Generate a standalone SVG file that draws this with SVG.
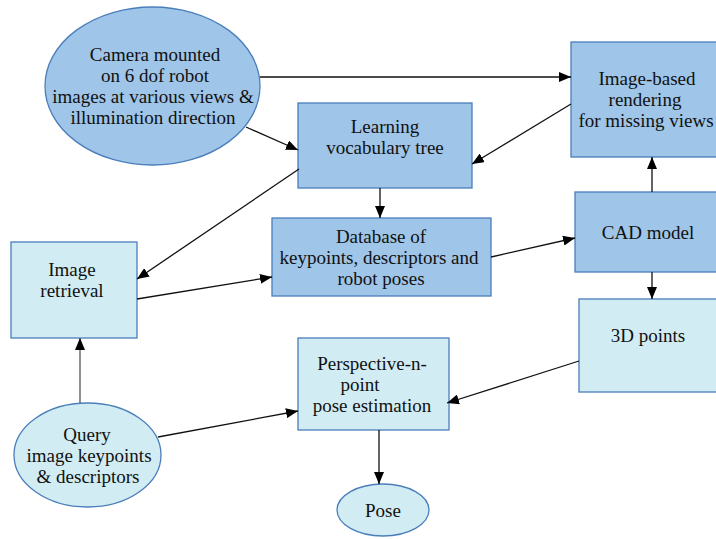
<svg xmlns="http://www.w3.org/2000/svg" width="716" height="539" viewBox="0 0 716 539">
<style>
.dark{fill:#9fc5e8;stroke:#4a7ebb;stroke-width:1.3}
.light{fill:#d2ecf3;stroke:#4a7ebb;stroke-width:1.3}
text{font-size:19px;fill:#111;text-anchor:middle}
.c line{stroke:#111;stroke-width:1.3}
</style>
<defs>
<marker id="ah" viewBox="0 0 12 10" refX="12" refY="5" markerWidth="12" markerHeight="10" markerUnits="userSpaceOnUse" orient="auto">
<path d="M0,0 L12,5 L0,10 z" fill="#000"/>
</marker>
</defs>
<rect width="716" height="539" fill="#fff"/>
<g font-family="'Liberation Serif', 'Times New Roman', 'DejaVu Serif', serif">
<g id="camera">
<ellipse class="dark" cx="152.5" cy="86" rx="107.5" ry="79"/>
<text x="155" y="61">Camera mounted</text>
<text x="155" y="82">on 6 dof robot</text>
<text x="153" y="103">images at various views &amp;</text>
<text x="153" y="124">illumination direction</text>
</g>
<g id="learning">
<rect class="dark" x="298" y="103" width="174" height="85"/>
<text x="385" y="133">Learning</text>
<text x="385" y="154">vocabulary tree</text>
</g>
<g id="ibr">
<rect class="dark" x="571" y="42" width="150" height="115"/>
<text x="647" y="85">Image-based</text>
<text x="645" y="106">rendering</text>
<text x="646" y="127">for missing views</text>
</g>
<g id="cad">
<rect class="dark" x="575" y="192" width="146" height="80"/>
<text x="648" y="239">CAD model</text>
</g>
<g id="database">
<rect class="dark" x="272" y="218" width="219" height="78"/>
<text x="381" y="243">Database of</text>
<text x="379" y="264">keypoints, descriptors and</text>
<text x="381" y="285">robot poses</text>
</g>
<g id="retrieval">
<rect class="light" x="11" y="242" width="126" height="96"/>
<text x="72" y="276">Image</text>
<text x="72" y="297">retrieval</text>
</g>
<g id="points3d">
<rect class="light" x="579" y="299" width="142" height="93"/>
<text x="648" y="342">3D points</text>
</g>
<g id="pnp">
<rect class="light" x="298" y="338" width="151" height="92"/>
<text x="372" y="370">Perspective-n-</text>
<text x="360" y="391">point</text>
<text x="372" y="412">pose estimation</text>
</g>
<g id="query">
<ellipse class="light" cx="87.5" cy="455" rx="73.5" ry="52"/>
<text x="87" y="441">Query</text>
<text x="89" y="462">image keypoints</text>
<text x="88" y="483">&amp; descriptors</text>
</g>
<g id="pose">
<ellipse class="light" cx="383" cy="510" rx="46" ry="26"/>
<text x="383" y="517">Pose</text>
</g>
</g>
<g class="c" id="connectors">
<line x1="260" y1="77" x2="571" y2="77" marker-end="url(#ah)"/>
<line x1="246" y1="127" x2="298" y2="150" marker-end="url(#ah)"/>
<line x1="571" y1="104" x2="472" y2="164" marker-end="url(#ah)"/>
<line x1="299" y1="169" x2="137" y2="279" marker-end="url(#ah)"/>
<line x1="380" y1="188" x2="380" y2="218" marker-end="url(#ah)"/>
<line x1="137" y1="299" x2="272" y2="277" marker-end="url(#ah)"/>
<line x1="491" y1="257" x2="575" y2="238" marker-end="url(#ah)"/>
<line x1="652" y1="192" x2="652" y2="157" marker-end="url(#ah)"/>
<line x1="652" y1="272" x2="652" y2="299" marker-end="url(#ah)"/>
<line x1="579" y1="361" x2="447" y2="403" marker-end="url(#ah)"/>
<line x1="80" y1="403" x2="80" y2="338" marker-end="url(#ah)" style="stroke:#555"/>
<line x1="158" y1="437" x2="298" y2="411" marker-end="url(#ah)"/>
<line x1="379" y1="430" x2="379" y2="484" marker-end="url(#ah)"/>
</g>
</svg>
